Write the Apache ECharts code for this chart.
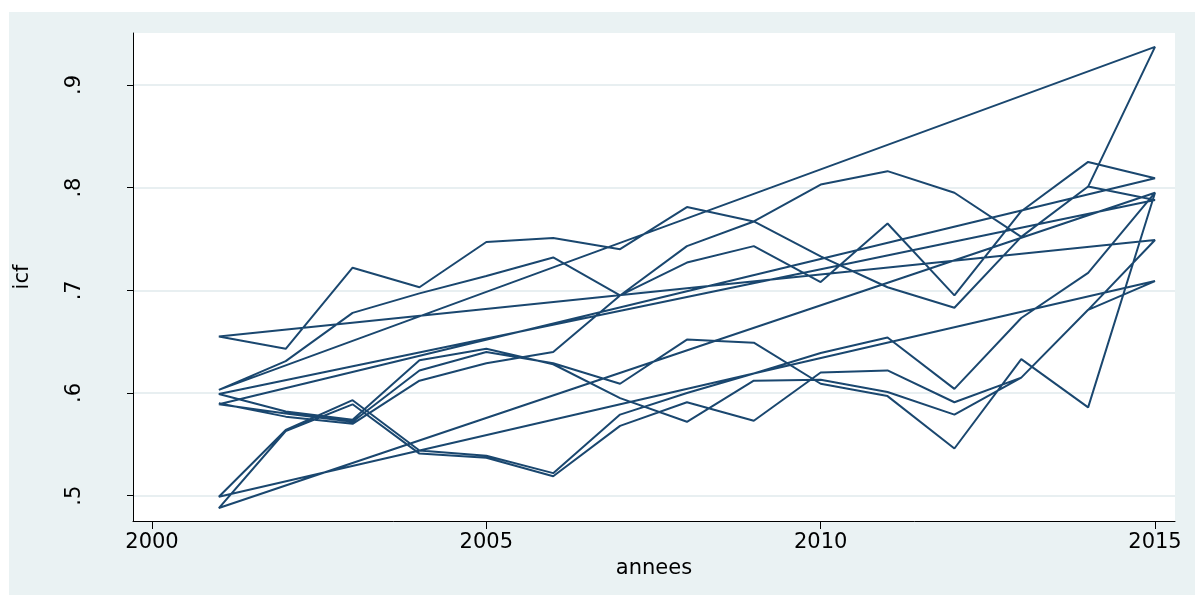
<!DOCTYPE html>
<html>
<head>
    <meta charset="UTF-8">
    <script src="https://cdn.jsdelivr.net/npm/echarts@6/dist/echarts.min.js"></script>
    <style>
        html, body { margin: 0; padding: 0; background: #fff; }
        #main { width: 1195px; height: 595px; }
    </style>
</head>
<body>
    <div id="main"></div>
    <script>
        // annees du panel
        var annees = [2001, 2002, 2003, 2004, 2005, 2006, 2007, 2008, 2009, 2010, 2011, 2012, 2013, 2014, 2015];

        // icf par pays, dans l'ordre du fichier (non trie par annee)
        var pays1 = [0.590, 0.577, 0.570, 0.612, 0.629, 0.640, 0.695, 0.727, 0.743, 0.708, 0.765, 0.695, 0.777, 0.825, 0.809];
        var pays2 = [0.589, 0.580, 0.572, 0.622, 0.640, 0.629, 0.609, 0.652, 0.649, 0.609, 0.597, 0.546, 0.633, 0.586, 0.795];
        var pays3 = [0.488, 0.563, 0.589, 0.541, 0.537, 0.519, 0.568, 0.591, 0.573, 0.620, 0.622, 0.591, 0.615, 0.681, 0.749];
        var pays4 = [0.655, 0.643, 0.722, 0.703, 0.747, 0.751, 0.740, 0.781, 0.767, 0.803, 0.816, 0.795, 0.752, 0.801, 0.937];
        var pays5 = [0.603, 0.631, 0.678, 0.697, 0.714, 0.732, 0.695, 0.743, 0.767, 0.733, 0.703, 0.683, 0.752, 0.801, 0.788];
        var pays6 = [0.599, 0.582, 0.574, 0.632, 0.643, 0.628, 0.595, 0.572, 0.612, 0.613, 0.601, 0.579, 0.615, 0.681, 0.709];
        var pays7 = [0.499, 0.564, 0.593, 0.544, 0.539, 0.522, 0.579, 0.600, 0.619, 0.639, 0.654, 0.604, 0.673, 0.717, 0.795];

        var ordre = [pays1, pays2, pays3, pays4, pays5, pays6, pays7];

        var ticksX = [2000, 2005, 2010, 2015];
        var ticksY = [0.5, 0.6, 0.7, 0.8, 0.9];

        // une seule ligne qui relie les observations dans l'ordre des donnees
        var points = [];
        ordre.forEach(function (p) {
            p.forEach(function (v, i) {
                points.push([annees[i], v]);
            });
        });

        var police = 'DejaVu Sans';

        var myChart = echarts.init(document.getElementById('main'));

        var option = {
            animation: false,
            backgroundColor: '#fff',
            graphic: [{
                type: 'rect',
                z: -10,
                shape: { x: 9, y: 12, width: 1186, height: 583 },
                style: { fill: '#EAF2F3' }
            }],
            grid: {
                left: 133,
                right: 20,
                top: 33,
                bottom: 74,
                show: true,
                backgroundColor: '#fff',
                borderWidth: 0
            },
            xAxis: {
                type: 'value',
                min: 1999.716,
                max: 2015.299,
                name: 'annees',
                nameLocation: 'middle',
                nameGap: 32,
                nameTextStyle: { fontFamily: police, fontSize: 21, color: '#000' },
                axisLine: { show: true, onZero: false, lineStyle: { color: '#000', width: 1 } },
                axisTick: { show: true, length: 8, customValues: ticksX, lineStyle: { color: '#000' } },
                axisLabel: {
                    customValues: ticksX,
                    margin: 11,
                    fontFamily: police,
                    fontSize: 21,
                    color: '#000',
                    formatter: function (v) { return String(v); }
                },
                splitLine: { show: false }
            },
            yAxis: {
                type: 'value',
                min: 0.4754,
                max: 0.9505,
                name: 'icf',
                nameLocation: 'middle',
                nameRotate: 90,
                nameGap: 100,
                nameTextStyle: { fontFamily: police, fontSize: 21, color: '#000' },
                axisLine: { show: true, onZero: false, lineStyle: { color: '#000', width: 1 } },
                axisTick: { show: true, length: 6, customValues: ticksY, lineStyle: { color: '#000' } },
                axisLabel: {
                    customValues: ticksY,
                    rotate: 90,
                    margin: 48,
                    fontFamily: police,
                    fontSize: 21,
                    color: '#000',
                    formatter: function (v) { return '.' + Math.round(v * 10); }
                },
                splitLine: { show: true, lineStyle: { color: '#E8EFF1', width: 2 } }
            },
            series: [{
                type: 'line',
                data: points,
                showSymbol: false,
                symbol: 'none',
                lineStyle: { color: '#1A476F', width: 2 },
                z: 3
            }]
        };

        myChart.setOption(option);
    </script>
</body>
</html>
